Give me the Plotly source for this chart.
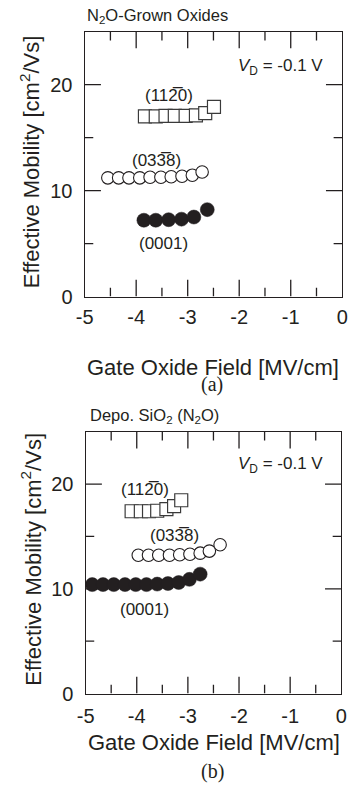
import plotly.graph_objects as go

# ---------------- data ----------------
# (a) N2O-grown oxides
sq_a_x = [-3.83, -3.62, -3.43, -3.25, -3.04, -2.84, -2.66, -2.49]
sq_a_y = [17.0, 17.0, 17.05, 17.05, 17.05, 17.1, 17.3, 17.9]
oc_a_x = [-4.55, -4.34, -4.14, -3.93, -3.73, -3.52, -3.32, -3.11, -2.91, -2.72]
oc_a_y = [11.2, 11.2, 11.2, 11.2, 11.25, 11.25, 11.3, 11.35, 11.45, 11.75]
fc_a_x = [-3.85, -3.62, -3.37, -3.12, -2.88, -2.62]
fc_a_y = [7.2, 7.2, 7.25, 7.3, 7.5, 8.2]

# (b) Depo. SiO2 (N2O)
sq_b_x = [-4.10, -3.92, -3.76, -3.60, -3.42, -3.27, -3.13]
sq_b_y = [17.4, 17.4, 17.4, 17.45, 17.6, 17.9, 18.45]
oc_b_x = [-3.97, -3.77, -3.57, -3.36, -3.16, -2.96, -2.76, -2.58, -2.37]
oc_b_y = [13.2, 13.2, 13.2, 13.2, 13.25, 13.3, 13.4, 13.6, 14.2]
fc_b_x = [-4.87, -4.66, -4.45, -4.23, -4.02, -3.81, -3.60, -3.39, -3.18, -2.97, -2.76]
fc_b_y = [10.4, 10.4, 10.4, 10.4, 10.4, 10.4, 10.45, 10.5, 10.6, 10.9, 11.4]

x_tickvals = [-5, -4, -3, -2, -1, 0]
x_ticktext = ["-5", "-4", "-3", "-2", "-1", "0"]
x_minorvals = [-4.5, -3.5, -2.5, -1.5, -0.5]
y_tickvals = [0, 10, 20]
y_ticktext = ["0", "10", "20"]
y_minorvals = [5, 15]
X_RANGE = [-5, 0]
Y_RANGE = [0, 25]

label_1120 = "(11" + "2\u0305" + "0)"
label_0338 = "(03" + "3\u0305" + "8)"
label_0001 = "(0001)"

# ---------------- style ----------------
INK = "#231f20"
SANS = "Liberation Sans, Arial, sans-serif"
SERIF = "Liberation Serif, Times New Roman, serif"
W, H = 354, 795
MAJOR_LEN, MINOR_LEN, TW = 17, 9, 1.3

xdom_a = [79 / W, 348 / W]
xdom_b = [80 / W, 347 / W]
ydom_a = [(H - 300.7) / H, (H - 32) / H]
ydom_b = [(H - 703.3) / H, (H - 437.7) / H]

fig = go.Figure()


def add_ticks(xa, ya, xdom, ydom):
    # inward tick marks on all four sides; lengths given in pixels
    xpp = (X_RANGE[1] - X_RANGE[0]) / ((xdom[1] - xdom[0]) * W)
    ypp = (Y_RANGE[1] - Y_RANGE[0]) / ((ydom[1] - ydom[0]) * H)
    xs, ys = [], []
    for vals, L in ((x_tickvals, MAJOR_LEN), (x_minorvals, MINOR_LEN)):
        for v in vals:
            if v in X_RANGE:
                continue
            xs += [v, v, None, v, v, None]
            ys += [Y_RANGE[0], Y_RANGE[0] + L * ypp, None,
                   Y_RANGE[1], Y_RANGE[1] - L * ypp, None]
    for vals, L in ((y_tickvals, MAJOR_LEN), (y_minorvals, MINOR_LEN)):
        for v in vals:
            if v in Y_RANGE:
                continue
            xs += [X_RANGE[0], X_RANGE[0] + L * xpp, None,
                   X_RANGE[1], X_RANGE[1] - L * xpp, None]
            ys += [v, v, None, v, v, None]
    fig.add_trace(go.Scatter(x=xs, y=ys, mode="lines", line=dict(color=INK, width=TW),
                             xaxis=xa, yaxis=ya, showlegend=False, hoverinfo="skip"))


def add_series(xs, ys, xa, ya, kind):
    if kind == "sq":
        m = dict(symbol="square", size=13, color="white", line=dict(color="#3a3a3a", width=1.2))
    elif kind == "oc":
        m = dict(symbol="circle", size=12.5, color="white", line=dict(color=INK, width=1.1))
    else:
        m = dict(symbol="circle", size=14, color=INK, line=dict(color=INK, width=0.5))
    fig.add_trace(go.Scatter(x=xs, y=ys, mode="markers", marker=m,
                             xaxis=xa, yaxis=ya, showlegend=False, hoverinfo="skip"))


add_ticks("x", "y", xdom_a, ydom_a)
add_ticks("x2", "y2", xdom_b, ydom_b)
add_series(fc_a_x, fc_a_y, "x", "y", "fc")
add_series(oc_a_x, oc_a_y, "x", "y", "oc")
add_series(sq_a_x, sq_a_y, "x", "y", "sq")
add_series(fc_b_x, fc_b_y, "x2", "y2", "fc")
add_series(oc_b_x, oc_b_y, "x2", "y2", "oc")
add_series(sq_b_x, sq_b_y, "x2", "y2", "sq")


def axis_cfg(dom, anchor, rng, vals, labels, standoff):
    return dict(domain=dom, anchor=anchor, range=rng, showgrid=False, zeroline=False,
                showline=True, linecolor=INK, linewidth=TW, mirror=True,
                ticks="", tickmode="array", tickvals=vals, ticktext=labels,
                ticklabelstandoff=standoff,
                tickfont=dict(family=SANS, size=20, color=INK))


ann = []


def txt(text, x, y, size, xref="paper", yref="paper", xanchor="center", yanchor="middle",
        family=SANS, angle=0):
    ann.append(dict(text=text, x=x, y=y, xref=xref, yref=yref, xanchor=xanchor,
                    yanchor=yanchor, showarrow=False, textangle=angle,
                    font=dict(family=family, size=size, color=INK)))


def py(p):
    return (H - p) / H


# panel (a)
txt("N<sub>2</sub>O-Grown Oxides", 79 / W, py(16), 16.5, xanchor="left")
txt("<i>V</i><sub>D</sub> = -0.1 V", -0.33, 21.7, 17, xref="x", yref="y", xanchor="right")
txt(label_1120, -3.36, 19.0, 17, xref="x", yref="y")
txt(label_0338, -3.61, 12.85, 17, xref="x", yref="y")
txt(label_0001, -3.46, 5.0, 17, xref="x", yref="y")
txt("Gate Oxide Field [MV/cm]", 212.7 / W, py(373), 22)
txt("Effective Mobility [cm<sup>2</sup>/Vs]", 22 / W, py(164.5), 22, angle=-90)
txt("(a)", 212 / W, py(390), 20, family=SERIF)

# panel (b)
txt("Depo. SiO<sub>2</sub> (N<sub>2</sub>O)", 82 / W, py(421.7), 16.5, xanchor="left")
txt("<i>V</i><sub>D</sub> = -0.1 V", -0.32, 21.8, 17, xref="x2", yref="y2", xanchor="right")
txt(label_1120, -3.84, 19.45, 17, xref="x2", yref="y2")
txt(label_0338, -3.27, 15.07, 17, xref="x2", yref="y2")
txt(label_0001, -3.84, 8.0, 17, xref="x2", yref="y2")
txt("Gate Oxide Field [MV/cm]", 213.6 / W, py(753.3), 22)
txt("Effective Mobility [cm<sup>2</sup>/Vs]", 23 / W, py(567.5), 22, angle=-90)
txt("(b)", 212.5 / W, py(782), 20, family=SERIF)

fig.update_layout(
    width=W, height=H, autosize=False,
    margin=dict(l=0, r=0, t=0, b=0),
    paper_bgcolor="white", plot_bgcolor="white",
    xaxis=axis_cfg(xdom_a, "y", X_RANGE, x_tickvals, x_ticktext, 2),
    yaxis=axis_cfg(ydom_a, "x", Y_RANGE, y_tickvals, y_ticktext, 7),
    xaxis2=axis_cfg(xdom_b, "y2", X_RANGE, x_tickvals, x_ticktext, 4),
    yaxis2=axis_cfg(ydom_b, "x2", Y_RANGE, y_tickvals, y_ticktext, 7),
    annotations=ann,
)

fig.write_html("out.html")
